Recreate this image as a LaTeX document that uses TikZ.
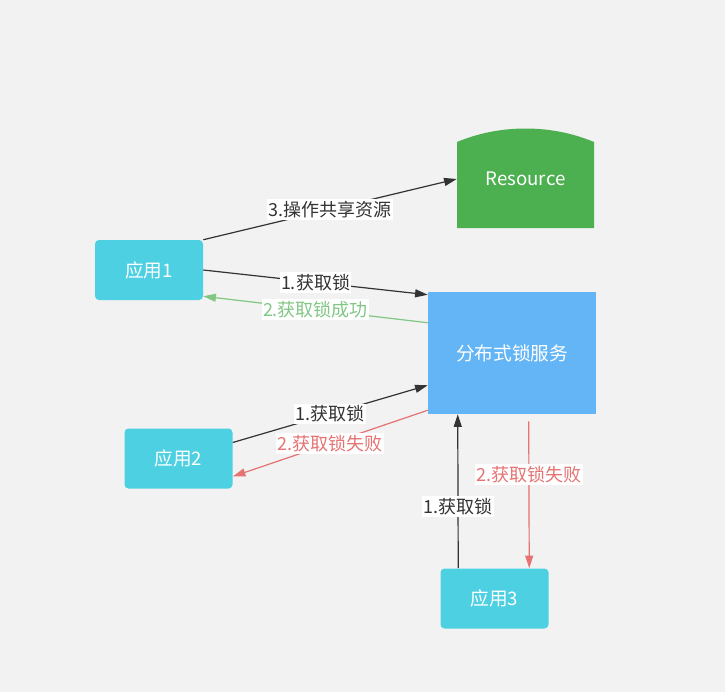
\documentclass[tikz,border=0pt]{standalone}
\usepackage{fontspec}
\setmainfont{Noto Sans CJK SC}
\usetikzlibrary{arrows.meta,calc}
\definecolor{bggray}{HTML}{F2F2F2}
\definecolor{appcyan}{HTML}{4DD0E1}
\definecolor{lockblue}{HTML}{64B5F6}
\definecolor{resgreen}{HTML}{4CAF50}
\definecolor{okgreen}{HTML}{81C784}
\definecolor{failred}{HTML}{E57373}
\definecolor{arrowgray}{HTML}{333333}

\begin{document}
\begin{tikzpicture}[x=0.75pt,y=-0.75pt,font=\fontsize{13.5}{15}\selectfont,
  app/.style={fill=appcyan,rounded corners=3pt,minimum width=81pt,minimum height=45pt,text=white,font=\fontsize{14}{16}\selectfont},
  lockbox/.style={fill=lockblue,minimum width=126pt,minimum height=91.5pt,text=white,font=\fontsize{14}{16}\selectfont},
  msg/.style={draw=arrowgray,line width=0.9pt,-{Triangle[length=9.5pt,width=6pt]}},
  lbl/.style={fill=white,inner xsep=1pt,inner ysep=1.5pt,text=arrowgray}]
\fill[bggray] (0,0) rectangle (725,692);
\useasboundingbox (0,0) rectangle (725,692);
% resource with a bulging top
\fill[resgreen] (457,228) -- (457,142) .. controls (500,124) and (551,124) .. (594,142) -- (594,228) -- cycle;
\node[minimum width=102.75pt,minimum height=73.5pt,text=white,font=\fontsize{14}{16}\selectfont] (res) at (525.5,179) {Resource};
\node[lockbox] (lock) at (512,353) {分布式锁服务};
\node[app] (app1) at (149,270) {应用1};
\node[app] (app2) at (178.5,458.5) {应用2};
\node[app] (app3) at (494.5,598.5) {应用3};
% app1
\draw[msg] (app1.north east) -- node[lbl] (l3) {3.操作共享资源} (res.west);
\draw[msg] (app1.east) -- node[lbl] (l1a) {1.获取锁} ($(lock.north west)+(0,3)$);
\draw[msg,draw=okgreen,fill=okgreen] ($(lock.north west)+(0,31)$) -- node[lbl,text=okgreen] (l2a) {2.获取锁成功} ($(app1.south east)+(0,-4)$);
% app2
\draw[msg] ($(app2.east)+(0,-16)$) -- node[lbl] (l1b) {1.获取锁} ($(lock.south west)+(0,-29)$);
\draw[msg,draw=failred,fill=failred] ($(lock.south west)+(0,-4)$) -- node[lbl,text=failred] (l2b) {2.获取锁失败} ($(app2.east)+(0,18)$);
% app3
\draw[msg] ($(app3.north west)+(18,0)$) -- node[lbl,pos=0.4] (l1c) {1.获取锁} ($(lock.south west)+(30,0)$);
\draw[msg,draw=failred,fill=failred] ($(lock.south west)+(101,7)$) -- node[lbl,pos=0.36,text=failred] (l2c) {2.获取锁失败} ($(app3.north west)+(89,0)$);
\end{tikzpicture}
\end{document}
